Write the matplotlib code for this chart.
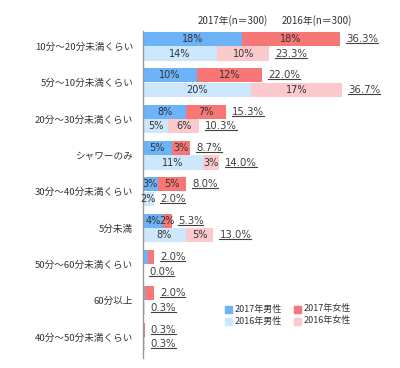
import matplotlib
matplotlib.use("Agg")
import matplotlib.pyplot as plt
from matplotlib.lines import Line2D
from matplotlib.patches import Rectangle

plt.rcParams['font.family'] = ['Noto Sans CJK JP', 'DejaVu Sans']

categories = ["10分～20分未満くらい", "5分～10分未満くらい", "20分～30分未満くらい", "シャワーのみ",
              "30分～40分未満くらい", "5分未満", "50分～60分未満くらい", "60分以上", "40分～50分未満くらい"]
male_2017 = [18.3, 10.0, 8.0, 5.3, 2.7, 3.7, 1.0, 0.3, 0.0]
female_2017 = [18.0, 12.0, 7.3, 3.4, 5.3, 1.6, 1.0, 1.7, 0.3]
total_2017 = [36.3, 22.0, 15.3, 8.7, 8.0, 5.3, 2.0, 2.0, 0.3]
male_2016 = [13.7, 19.9, 4.7, 11.0, 2.0, 7.9, 0.0, 0.3, 0.3]
female_2016 = [9.6, 16.8, 5.6, 3.0, 0.0, 5.1, 0.0, 0.0, 0.0]
total_2016 = [23.3, 36.7, 10.3, 14.0, 2.0, 13.0, 0.0, 0.3, 0.3]
show_inner = [True, True, True, True, True, True, False, False, False]
header_labels = ["2017年(n＝300)", "2016年(n＝300)"]
legend_labels = ["2017年男性", "2017年女性", "2016年男性", "2016年女性"]

c_m17 = "#6DB3F7"
c_f17 = "#F77676"
c_m16 = "#CDE8FC"
c_f16 = "#FCC9CD"
txt = "#333333"

fig = plt.figure(figsize=(4.0, 3.68), dpi=100)
W, H = 400, 368
ax = fig.add_axes([143 / W, 1 - 358 / H, 1 - 143 / W, 327 / H])
ax.set_xlim(0, 257 / 5.42)
ax.set_ylim(8.58, -0.42)
for s in ["top", "right", "bottom"]:
    ax.spines[s].set_visible(False)
ax.spines["left"].set_color("#999999")
ax.spines["left"].set_linewidth(1.0)
ax.set_xticks([])
ax.set_yticks(range(len(categories)))
ax.set_yticklabels(categories, fontsize=6.9, color=txt)
ax.tick_params(axis="y", length=0, pad=7)

h = 0.39
y17 = [i - 0.2 for i in range(len(categories))]
y16 = [i + 0.2 for i in range(len(categories))]
ax.barh(y17, male_2017, height=h, color=c_m17, label=legend_labels[0])
ax.barh(y17, female_2017, left=male_2017, height=h, color=c_f17, label=legend_labels[1])
ax.barh(y16, male_2016, height=h, color=c_m16, label=legend_labels[2])
ax.barh(y16, female_2016, left=male_2016, height=h, color=c_f16, label=legend_labels[3])

fs_in = 7.0
for i in range(len(categories)):
    if show_inner[i]:
        for y, m, f in [(y17[i], male_2017[i], female_2017[i]), (y16[i], male_2016[i], female_2016[i])]:
            if m >= 1.5:
                ax.text(m / 2, y, f"{round(m):d}%", ha="center", va="center", fontsize=fs_in, color=txt,
                        family="DejaVu Sans")
            if f >= 1.5:
                ax.text(m + f / 2, y, f"{round(f):d}%", ha="center", va="center", fontsize=fs_in, color=txt,
                        family="DejaVu Sans")

totals = []
for i in range(len(categories)):
    for y, t, end in [(y17[i], total_2017[i], male_2017[i] + female_2017[i]),
                      (y16[i], total_2016[i], male_2016[i] + female_2016[i])]:
        tt = ax.text(end + 1.1, y, f"{t:.1f}%", ha="left", va="center", fontsize=7.3, color="#404040",
                     family="DejaVu Sans")
        totals.append(tt)

fig.text(233 / W, 1 - 21 / H, header_labels[0], ha="center", va="center", fontsize=7.0, color=txt)
fig.text(317 / W, 1 - 21 / H, header_labels[1], ha="center", va="center", fontsize=7.0, color=txt)

# legend
leg_cols = [c_m17, c_f17, c_m16, c_f16]
pos = [(225, 309), (294, 309), (225, 321), (294, 321)]
for (px, py), col, lab in zip(pos, leg_cols, legend_labels):
    fig.patches.append(Rectangle((px / W, 1 - (py + 3.5) / H), 7 / W, 7 / H, transform=fig.transFigure,
                                 color=col))
    fig.text((px + 10) / W, 1 - py / H, lab, ha="left", va="center", fontsize=6.5, color=txt)

fig.canvas.draw()
r = fig.canvas.get_renderer()
for tt in totals:
    bb = tt.get_window_extent(renderer=r)
    yy = bb.y0 + 1.0
    fig.lines.append(Line2D([bb.x0 / W, bb.x1 / W], [yy / H, yy / H], transform=fig.transFigure,
                            color="#404040", linewidth=0.8))

fig.savefig("out.png", dpi=100)
